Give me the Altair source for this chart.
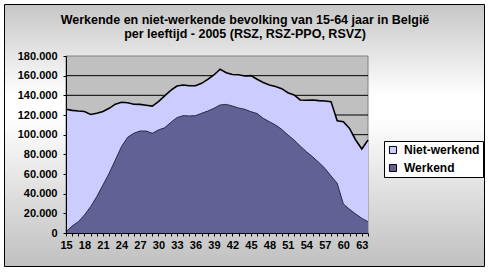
import altair as alt
import pandas as pd

# ---- data ----
ages = list(range(15, 65))
werkend = [1300, 7100, 11500, 18300, 26800, 37000, 48800, 60700, 74200, 87800,
           97300, 101400, 103700, 103700, 101400, 104800, 107000, 112500, 117300, 119300,
           119000, 119300, 121700, 124000, 126800, 130200, 130800, 129100, 127100, 125800,
           123400, 121500, 116600, 113200, 109800, 105400, 99700, 94600, 88500, 82700,
           77600, 71900, 65800, 58000, 50500, 29500, 24100, 19300, 14900, 11500]
niet_werkend = [124500, 117600, 112500, 105200, 93700, 84700, 74700, 66100, 56800, 45200,
                35200, 29600, 27100, 26300, 27600, 28800, 32500, 32500, 32200, 31200,
                30800, 30500, 30500, 32300, 33900, 36300, 32200, 32100, 33800, 33900,
                36600, 34800, 36400, 37300, 39100, 41400, 43000, 45800, 46800, 52300,
                57700, 62700, 68500, 75600, 63700, 83700, 82300, 75300, 70500, 83100]
series = ["Niet-werkend", "Werkend"]
series_colors = ["#ccccff", "#616196"]
y_ticks = list(range(0, 180001, 20000))
grid_values = list(range(20000, 160001, 20000))
title_lines = ["Werkende en niet-werkende bevolking van 15-64 jaar in België",
               "per leeftijd - 2005 (RSZ, RSZ-PPO, RSVZ)"]

W, H = 302, 177
FONT = "Liberation Sans"

df = pd.DataFrame({"leeftijd": ages, "Werkend": werkend, "Niet-werkend": niet_werkend})
one = pd.DataFrame({"k": [0]})
grid_df = pd.DataFrame({"v": grid_values})
title_df = pd.DataFrame({"t": ["\n".join(title_lines)]})

xs = alt.Scale(domain=[15, 64], nice=False, zero=False)
ys = alt.Scale(domain=[0, 180000], nice=False)

xax = alt.Axis(
    values=ages, title=None, grid=False,
    labelExpr="(datum.value - 15) % 3 == 0 ? datum.label : ''",
    labelOverlap=False, labelFlush=False, tickSize=3, tickColor="black",
    domainColor="black", labelPadding=3, labelFont=FONT, labelFontSize=11,
    labelFontWeight="bold", labelColor="black", zindex=1)
yax = alt.Axis(
    values=y_ticks, title=None, grid=False,
    labelExpr="replace(format(datum.value, ',d'), regexp(',', 'g'), '.')",
    tickSize=3, tickColor="black", domainColor="black", labelPadding=6,
    labelFont=FONT, labelFontSize=11, labelFontWeight="bold", labelColor="black",
    zindex=1)

bg = alt.Chart(one).mark_rect(
    fill=alt.Gradient(
        gradient="linear", x1=0, x2=0, y1=0, y2=1,
        stops=[alt.GradientStop(color="#c6c6c6", offset=0),
               alt.GradientStop(color="#ffffff", offset=0.35),
               alt.GradientStop(color="#ffffff", offset=0.43),
               alt.GradientStop(color="#c0c0c0", offset=1)]),
    stroke="black", strokeWidth=1,
).encode(x=alt.value(-61.5), x2=alt.value(418.5), y=alt.value(-51.5), y2=alt.value(210.5))

title = alt.Chart(title_df).mark_text(
    font=FONT, fontSize=12.5, fontWeight="bold", color="black", lineBreak="\n",
    lineHeight=14, align="center", baseline="middle",
).encode(text="t:N", x=alt.value(179), y=alt.value(-36))

plot_bg = alt.Chart(one).mark_rect(fill="#c0c0c0", stroke="#808080", strokeWidth=1).encode(
    x=alt.value(0), x2=alt.value(W), y=alt.value(0), y2=alt.value(H))

grid = alt.Chart(grid_df).mark_rule(color="black", strokeWidth=1).encode(
    y=alt.Y("v:Q", scale=ys, axis=yax), x=alt.value(0), x2=alt.value(W))

areas = alt.Chart(df).transform_fold(series, as_=["reeks", "aantal"]).transform_calculate(
    volgorde="datum.reeks == 'Werkend' ? 0 : 1"
).mark_area(opacity=1).encode(
    x=alt.X("leeftijd:Q", scale=xs, axis=xax),
    y=alt.Y("aantal:Q", stack="zero", scale=ys, axis=yax),
    color=alt.Color("reeks:N", scale=alt.Scale(domain=series, range=series_colors),
                    legend=alt.Legend(
                        title=None, orient="none", legendX=318, legendY=85,
                        fillColor="white", strokeColor="black", padding=3,
                        symbolType="square", symbolSize=50, symbolStrokeColor="black",
                        symbolStrokeWidth=1, symbolOpacity=1, labelOffset=5,
                        labelFont=FONT, labelFontSize=12, labelFontWeight="bold",
                        labelColor="black", rowPadding=6, cornerRadius=0)),
    order=alt.Order("volgorde:Q", sort="ascending"),
)

total_line = alt.Chart(df).transform_calculate(
    totaal="datum.Werkend + datum['Niet-werkend']"
).mark_line(color="black", strokeWidth=1.6).encode(
    x=alt.X("leeftijd:Q", scale=xs, axis=xax),
    y=alt.Y("totaal:Q", scale=ys, axis=yax))

werk_line = alt.Chart(df).mark_line(color="#2a2a48", strokeWidth=1).encode(
    x=alt.X("leeftijd:Q", scale=xs, axis=xax),
    y=alt.Y("Werkend:Q", scale=ys, axis=yax))

chart = alt.layer(bg, title, plot_bg, grid, areas, total_line, werk_line).properties(
    width=W, height=H,
    padding={"left": 66, "top": 56, "right": 123, "bottom": 39},
    autosize=alt.AutoSizeParams(type="none"),
).configure(background="white").configure_view(stroke=None)

chart.save("out.html", embed_options={"renderer": "svg", "actions": False})
